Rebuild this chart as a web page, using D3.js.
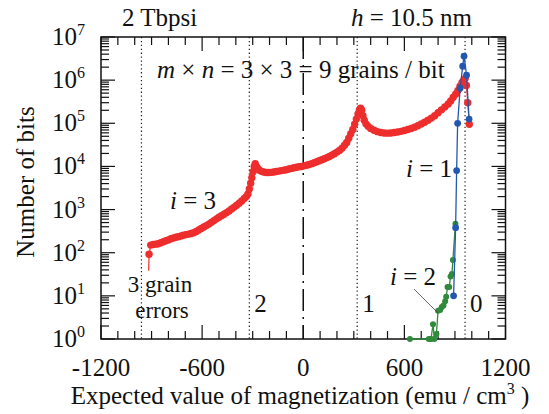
<!DOCTYPE html>
<html><head><meta charset="utf-8">
<script src="https://cdn.jsdelivr.net/npm/d3@7"></script>
<style>body{margin:0;background:#fff}svg{display:block}text{font-family:'Liberation Serif','Times New Roman','DejaVu Serif',serif;fill:#111}</style>
</head><body><svg id="c" width="549" height="414" font-family="Liberation Serif, Times New Roman, serif"></svg>
<script>
// ---- data ----
const xTicksMinor = d3.range(-1200, 1201, 100);
const xTickLabels = [-1200, -600, 0, 600, 1200];
const yDecades = [0,1,2,3,4,5,6,7];
const boundaries = [-960, -320, 320, 960];
const boundaryLabels = ["2", "1", "0"];
// i = 3 (red)
const redX = [-915,-905,-890,-875,-860,-845,-830,-815,-800,-785,-770,-755,-740,-725,-710,-695,-680,-665,-650,-635,-620,-605,-590,-575,-560,-545,-530,-515,-500,-485,-470,-455,-440,-425,-410,-395,-380,-365,-350,-338,-328,-320,-312,-305,-298,-291,-285,-278,-270,-260,-248,-235,-220,-205,-190,-175,-160,-145,-130,-115,-100,-85,-70,-55,-40,-25,-10,5,20,35,50,65,80,95,110,125,140,155,170,185,200,215,230,245,258,270,282,294,305,315,325,333,340,347,354,362,372,385,400,420,440,460,480,500,520,540,560,580,600,620,640,660,680,700,720,740,760,780,800,820,840,860,875,890,905,918,930,942,952,961,968,976,985];
const redY = [92,150,155,158,162,170,180,190,198,210,220,228,236,245,255,263,270,278,290,310,335,365,395,425,460,505,555,610,665,720,780,850,930,1030,1140,1260,1400,1580,1800,2000,2300,3000,4100,5500,7500,10000,11500,10000,9000,8200,7700,7400,7250,7250,7300,7450,7600,7800,8000,8200,8400,8700,9000,9300,9600,9800,10000,10300,10700,11100,11600,12200,12800,13500,14300,15100,16000,17000,18300,19800,21500,23500,26500,31000,36000,45000,57000,72000,95000,125000,165000,200000,225000,200000,150000,118000,97000,85000,76000,69000,64000,61000,59500,59000,59500,61000,63000,65000,68000,72000,76000,81000,88000,96000,106000,118000,132000,150000,175000,205000,240000,280000,330000,400000,480000,580000,720000,880000,1000000,1100000,750000,300000,95000];
const redTailX = [-917, -915];
const redTailY = [38, 92];
// i = 1 (blue)
const blueX = [892, 904, 910, 916, 931, 946, 954, 969, 984];
const blueY = [10, 380, 8000, 100000, 650000, 2100000, 3600000, 1300000, 125000];
// i = 2 (green)
const greenX = [633, 745, 758, 770, 778, 790, 800, 812, 822, 832, 842, 848, 856, 866, 874, 882, 888, 903];
const greenY = [1, 1, 1, 2.2, 1, 1.3, 4.5, 4.7, 5.5, 6, 7.5, 9.5, 16, 16, 28, 32, 68, 470];

// ---- layout ----
const svg = d3.select("#c");
const L = 101, R = 505.5, T = 37, B = 339;
const x = d3.scaleLinear().domain([-1200, 1200]).range([L, R]);
const y = d3.scaleLog().domain([1, 1e7]).range([B, T]);
const FS = 25;

// boundary lines
svg.selectAll("line.bd").data(boundaries).enter().append("line")
  .attr("x1", d => x(d)).attr("x2", d => x(d)).attr("y1", T).attr("y2", B)
  .attr("stroke", "#222").attr("stroke-width", 1.2).attr("stroke-dasharray", "1.3,2.6");
svg.append("line").attr("x1", x(0)).attr("x2", x(0)).attr("y1", T).attr("y2", B)
  .attr("stroke", "#111").attr("stroke-width", 1.5).attr("stroke-dasharray", "22,6,2,6");

// ticks
const g = svg.append("g").attr("stroke", "#111").attr("stroke-width", 1.2);
xTicksMinor.forEach(v => {
  const len = (v % 600 === 0) ? 14 : 8;
  g.append("line").attr("x1", x(v)).attr("x2", x(v)).attr("y1", B).attr("y2", B - len);
  g.append("line").attr("x1", x(v)).attr("x2", x(v)).attr("y1", T).attr("y2", T + len);
});
yDecades.forEach(k => {
  const v = Math.pow(10, k);
  [[L, 1], [R, -1]].forEach(([x0, s]) => {
    g.append("line").attr("x1", x0).attr("x2", x0 + s * 14).attr("y1", y(v)).attr("y2", y(v));
    if (k < 7) for (let m = 2; m <= 9; m++) {
      g.append("line").attr("x1", x0).attr("x2", x0 + s * 8).attr("y1", y(m * v)).attr("y2", y(m * v));
    }
  });
});
svg.append("rect").attr("x", L).attr("y", T).attr("width", R - L).attr("height", B - T)
  .attr("fill", "none").attr("stroke", "#111").attr("stroke-width", 1.5);

// tick labels
svg.selectAll("text.xt").data(xTickLabels).enter().append("text")
  .attr("x", d => x(d)).attr("y", 376).attr("text-anchor", "middle").attr("font-size", FS)
  .text(d => d);
yDecades.forEach(k => {
  const t = svg.append("text").attr("x", 85).attr("y", y(Math.pow(10, k)) + 8).attr("text-anchor", "end").attr("font-size", FS);
  t.append("tspan").text("10");
  t.append("tspan").attr("dy", -10).attr("font-size", 16).text(k);
});

// axis titles
const xt = svg.append("text").attr("x", 300).attr("y", 404).attr("text-anchor", "middle").attr("font-size", FS);
xt.append("tspan").text("Expected value of magnetization (emu / cm");
xt.append("tspan").attr("dy", -10).attr("font-size", 16).text("3");
xt.append("tspan").attr("dy", 10).text(" )");
svg.append("text").attr("transform", "translate(34,182) rotate(-90)").attr("text-anchor", "middle")
  .attr("font-size", FS).text("Number of bits");

// series
const line = d3.line().x(d => x(d[0])).y(d => y(d[1]));
function series(xs, ys, color, r, w) {
  const pts = xs.map((v, i) => [v, ys[i]]);
  svg.append("path").attr("d", line(pts)).attr("fill", "none").attr("stroke", color).attr("stroke-width", w);
  svg.append("g").selectAll("circle").data(pts).enter().append("circle")
    .attr("cx", d => x(d[0])).attr("cy", d => y(d[1])).attr("r", r).attr("fill", color);
}
svg.append("path").attr("d", line(redTailX.map((v, i) => [v, redTailY[i]]))).attr("fill", "none").attr("stroke", "#ee2d2d").attr("stroke-width", 1.2);
series(redX, redY, "#ee2d2d", 3.7, 1.2);
series(greenX, greenY, "#2f8a3c", 3.0, 1.3);
series(blueX, blueY, "#2457b0", 3.4, 1.3);

// annotations
function lab(xp, yp, parts, anchor, fs) {
  const t = svg.append("text").attr("x", xp).attr("y", yp).attr("font-size", fs || FS).attr("text-anchor", anchor || "start");
  parts.forEach(p => { const s = t.append("tspan").text(p[0]); if (p[1]) s.attr("font-style", "italic"); });
  return t;
}
lab(122, 26, [["2 Tbpsi"]]);
lab(351, 26, [["h", 1], [" = 10.5 nm"]]);
lab(157, 78, [["m", 1], [" × "], ["n", 1], [" = 3 × 3 = 9 grains / bit"]]);
lab(170, 209, [["i", 1], [" = 3"]]);
lab(406, 177, [["i", 1], [" = 1"]]);
lab(390, 285, [["i", 1], [" = 2"]]);
svg.append("line").attr("x1", 414).attr("y1", 289).attr("x2", 438).attr("y2", 313).attr("stroke", "#444").attr("stroke-width", 0.8);
lab(160, 292, [["3 grain"]], "middle", 23);
lab(162, 318, [["errors"]], "middle", 23);
svg.selectAll("text.bl").data(boundaryLabels).enter().append("text")
  .attr("x", (d, i) => x(boundaries[i + 1]) + 5).attr("y", 312).attr("font-size", FS).text(d => d);
</script></body></html>
